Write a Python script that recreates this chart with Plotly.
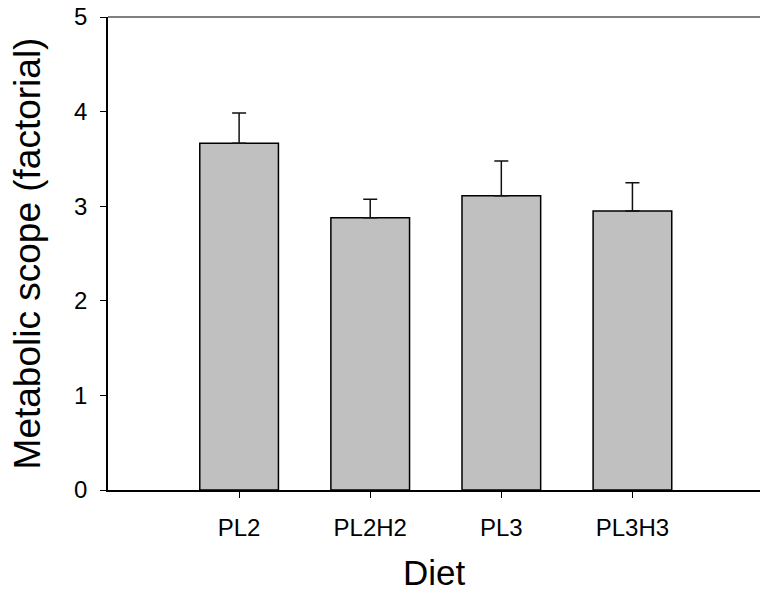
import plotly.graph_objects as go

diets = ["PL2", "PL2H2", "PL3", "PL3H3"]
scope = [3.665, 2.878, 3.111, 2.949]
scope_se = [0.32, 0.195, 0.367, 0.30]
y_ticks = [0, 1, 2, 3, 4, 5]

FONT = "Liberation Sans, Arial, sans-serif"

fig = go.Figure()
fig.add_trace(go.Bar(
    x=diets, y=scope, width=0.6,
    marker=dict(color="#c0c0c0", line=dict(color="#000000", width=1.5)),
    error_y=dict(type="data", array=scope_se, arrayminus=[0] * len(scope),
                 symmetric=False, color="#111111", thickness=1.5, width=7),
    showlegend=False,
))

fig.update_layout(
    width=760, height=592,
    margin=dict(l=107.5, r=0, t=17, b=102),
    plot_bgcolor="white", paper_bgcolor="white",
    font=dict(family=FONT, color="#000000"),
    bargap=0.4,
    xaxis=dict(
        type="category", range=[-1, 3.973],
        showline=True, linecolor="#000000", linewidth=1.5,
        ticks="outside", ticklen=6, tickwidth=1.2, tickcolor="#000000",
        tickfont=dict(size=24, family=FONT), ticklabelstandoff=9,
        title=dict(text="Diet", font=dict(size=35, family=FONT), standoff=26),
        showgrid=False, zeroline=False,
    ),
    yaxis=dict(
        range=[0, 5], tickvals=y_ticks,
        showline=True, linecolor="#000000", linewidth=1.5,
        ticks="outside", ticklen=6, tickwidth=1.2, tickcolor="#000000",
        tickfont=dict(size=24, family=FONT), ticklabelstandoff=8,
        title=dict(text="Metabolic scope (factorial)", font=dict(size=37, family=FONT), standoff=22),
        showgrid=False, zeroline=False,
    ),
    shapes=[dict(type="line", xref="paper", yref="paper", x0=0, x1=1, y0=1, y1=1,
                 line=dict(color="#555555", width=1.5))],
)

fig.write_html(
    "out.html",
    config={"displayModeBar": False},
    post_script="document.body.style.margin='0';document.body.style.overflow='hidden';"
                "document.documentElement.style.overflow='hidden';",
)
